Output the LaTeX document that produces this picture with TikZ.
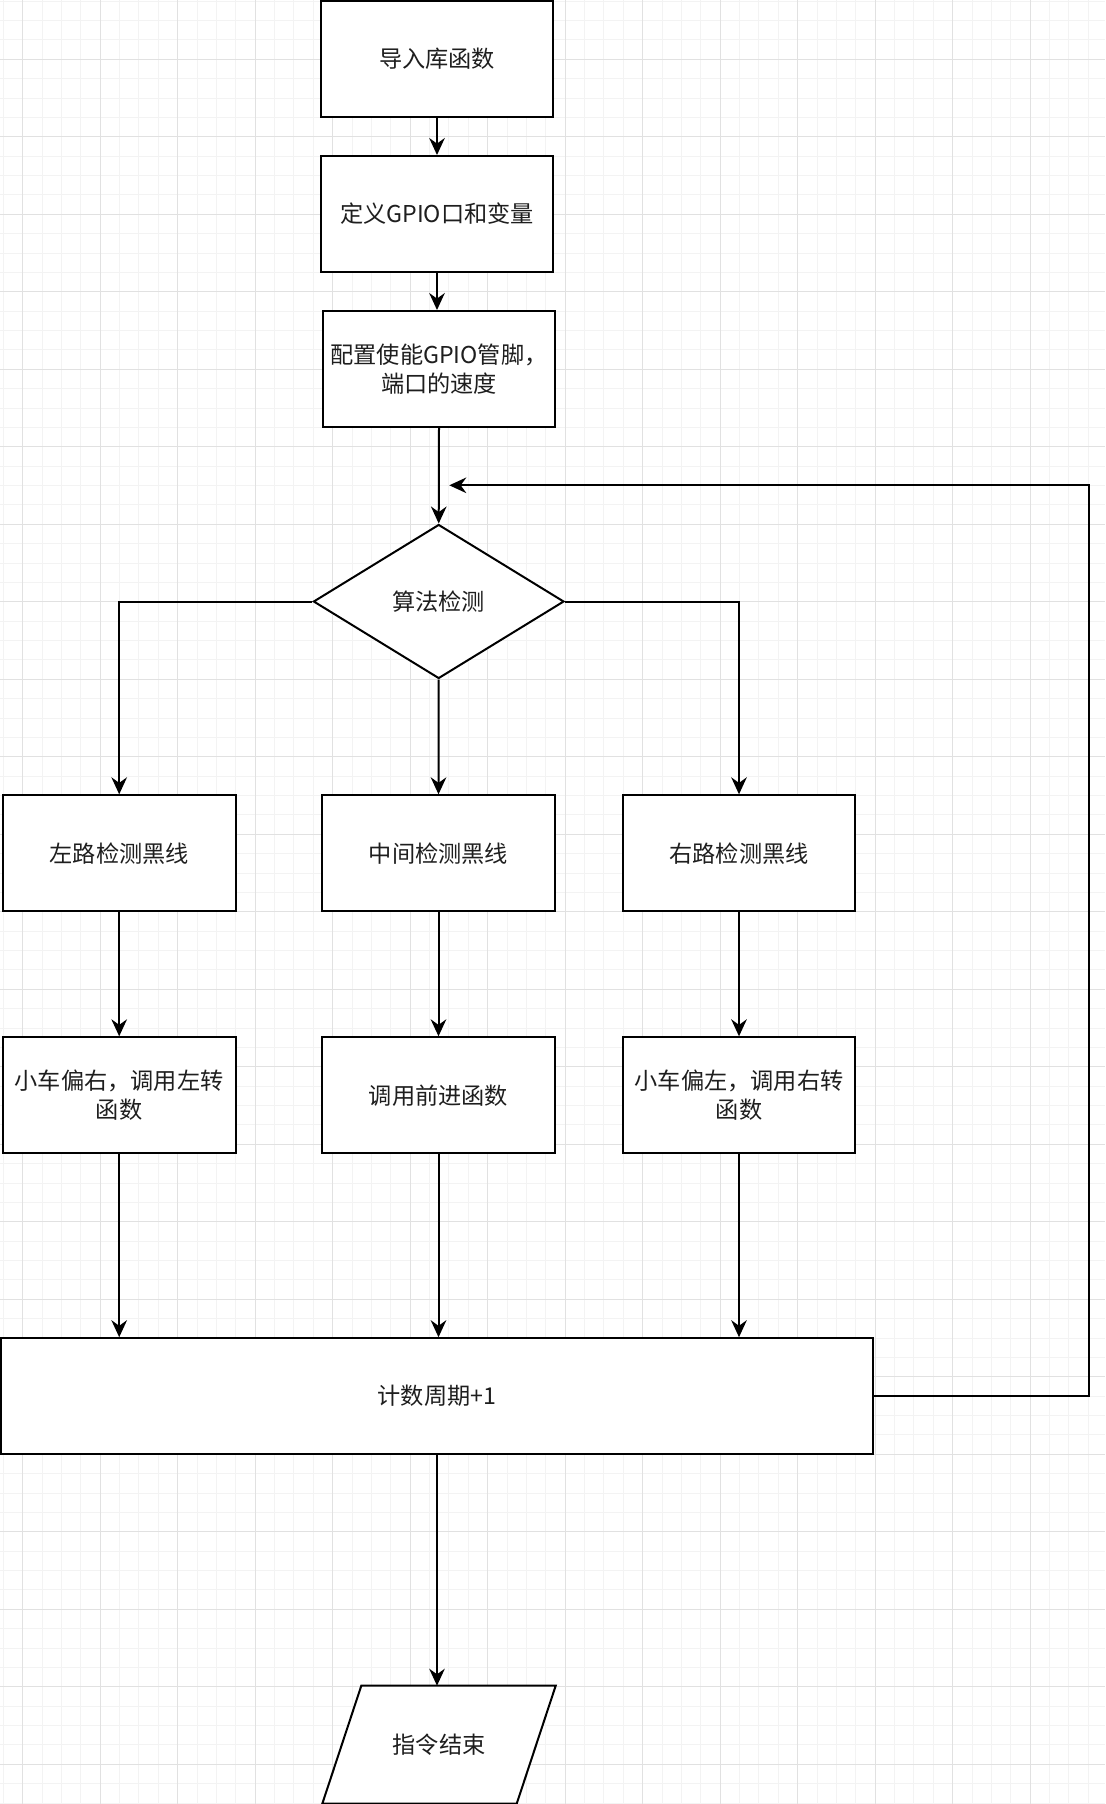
\documentclass[tikz,border=0pt]{standalone}
\usepackage{fontspec}
\setmainfont{Noto Sans CJK SC}
\usetikzlibrary{shapes.geometric,arrows.meta}
\definecolor{gminor}{RGB}{243,243,243}
\definecolor{gmajor}{RGB}{225,225,225}
\definecolor{txt}{RGB}{30,30,30}
\begin{document}
\begin{tikzpicture}[x=0.5pt,y=-0.5pt,
  basefont/.style={font=\fontsize{11.6pt}{14.6pt}\selectfont, text=txt, align=center},
  proc/.style={basefont, draw=black, line width=1pt, fill=white,
    minimum width=116.3pt, minimum height=58pt, inner sep=2pt},
  decide/.style={basefont, diamond, draw=black, line width=1pt, fill=white,
    minimum width=125.3pt, minimum height=77pt, inner sep=0pt},
  iobox/.style={basefont, rectangle, minimum width=116.3pt, minimum height=58.6pt, inner sep=0pt},
  ioline/.style={draw=black, line width=1pt, fill=white, line join=miter},
  arr/.style={draw=black, line width=1pt, -{Stealth[length=8.5pt,width=7.8pt,inset=2.8pt]}},
  minorgrid/.style={draw=gminor, line width=0.5pt},
  majorgrid/.style={draw=gmajor, line width=0.6pt}
]
\fill[white] (0,0) rectangle (1105,1804);
\useasboundingbox (0,0) rectangle (1105,1804);
% grid
\foreach \i in {0,...,56} {\draw[minorgrid] ({3.3+\i*19.375},0) -- ({3.3+\i*19.375},1804);}
\foreach \j in {0,...,93} {\draw[minorgrid] (0,{1.175+\j*19.375}) -- (1105,{1.175+\j*19.375});}
\foreach \k in {0,...,13} {\draw[majorgrid] ({22.7+\k*77.5},0) -- ({22.7+\k*77.5},1804);}
\foreach \k in {0,...,22} {\draw[majorgrid] (0,{59.3+\k*77.5}) -- (1105,{59.3+\k*77.5});}

% nodes
\node[proc] (b1) at (437,59) {导入库函数};
\node[proc] (b2) at (437,214) {定义GPIO口和变量};
\node[proc] (b3) at (439,369) {配置使能GPIO管脚，\\端口的速度};
\node[decide] (d) at (438.7,601.5) {算法检测};
\node[proc] (L1) at (119.2,853.3) {左路检测黑线};
\node[proc] (M1) at (438.5,853.3) {中间检测黑线};
\node[proc] (R1) at (739,853.3) {右路检测黑线};
\node[proc] (L2) at (119.2,1095.3) {小车偏右，调用左转\\函数};
\node[proc] (M2) at (438.5,1095.3) {调用前进函数};
\node[proc] (R2) at (739,1095.3) {小车偏左，调用右转\\函数};
\node[proc, minimum width=435.9pt, minimum height=57.8pt] (C) at (437,1396) {计数周期+1};

% parallelogram (end)
\node[iobox] (P) at (439,1744.7) {};
\draw[ioline] ([xshift=19.5pt]P.north west) -- (P.north east)
  -- ([xshift=-19.5pt]P.south east) -- (P.south west) -- cycle;
\node[basefont] (Pt) at (P.center) {指令结束};

\coordinate (loopR) at (1088.7,485.3);
\coordinate (loopEnd) at (449.3,485.3);

% connectors
\draw[arr] (b1.south) -- (b1.south |- b2.north);
\draw[arr] (b2.south) -- (b2.south |- b3.north);
\draw[arr] (b3.south) -- (d.north);
\draw[arr] (d.west) -| (L1.north);
\draw[arr] (d.south) -- (M1.north);
\draw[arr] (d.east) -| (R1.north);
\draw[arr] (L1.south) -- (L2.north);
\draw[arr] (M1.south) -- (M2.north);
\draw[arr] (R1.south) -- (R2.north);
\draw[arr] (L2.south) -- (L2.south |- C.north);
\draw[arr] (M2.south) -- (M2.south |- C.north);
\draw[arr] (R2.south) -- (R2.south |- C.north);
\draw[arr] (C.south) -- (C.south |- P.north);
\draw[arr] (C.east) -| (loopR) -- (loopEnd);
\end{tikzpicture}
\end{document}
